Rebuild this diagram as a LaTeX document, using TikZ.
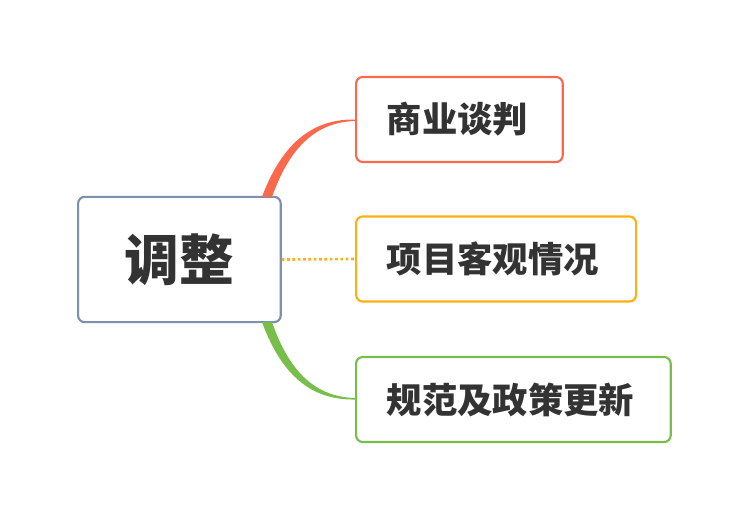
\documentclass[tikz,border=0pt]{standalone}
\usepackage{fontspec}
\newfontfamily\cjk{Noto Sans CJK SC}
\usetikzlibrary{positioning}
\definecolor{edge_gray}{RGB}{125,145,175}
\definecolor{edge_red}{RGB}{250,105,75}
\definecolor{edge_orange}{RGB}{255,175,20}
\definecolor{edge_green}{RGB}{120,190,75}
\begin{document}
\begin{tikzpicture}[x=0.75pt,y=-0.75pt]
    \tikzset{box/.style={draw, rounded corners=5pt, line width=1.6pt, fill=white, text=black!80, font=\cjk\bfseries\fontsize{26.5}{29}\selectfont, inner xsep=23pt, inner ysep=0pt, align=left, minimum height=63.75pt, anchor=west}}
    \useasboundingbox (0,0) rectangle (745,517);

    \node[box,draw=edge_gray,align=center,inner xsep=0pt,minimum width=152pt,minimum height=94pt,font=\cjk\bfseries\fontsize{41}{44}\selectfont] (root) at (77,259.5) {调整};
    \node[box,draw=edge_red,text width=109pt] (tan) at (355,119.5) {商业谈判};
    \node[box,draw=edge_orange,text width=164pt] (xiang) at (355,259) {项目客观情况};
    \node[box,draw=edge_green,text width=190pt] (gui) at (355,399.5) {规范及政策更新};

    % branches
    \fill[edge_red] (262,197) .. controls (285,135) and (320,119) .. (tan.west)
        -- (355,121) .. controls (322,122) and (292,140) .. (272,197) -- cycle;
    \draw[edge_orange,line width=2pt,dotted] (root.east) -- (xiang.west);
    \fill[edge_green] (262,322) .. controls (285,385) and (320,400) .. (gui.west)
        -- (355,398) .. controls (322,397) and (292,380) .. (272,322) -- cycle;
\end{tikzpicture}
\end{document}
